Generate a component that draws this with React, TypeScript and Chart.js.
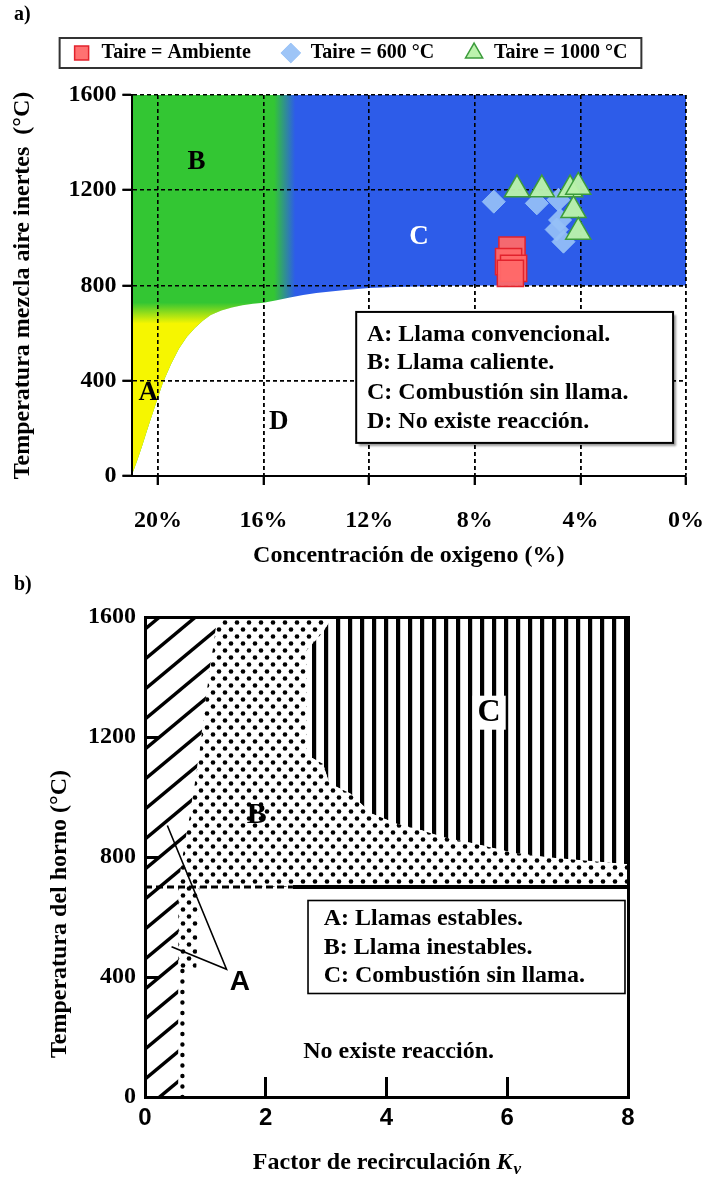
import React, { useEffect, useRef } from 'react';
import { Chart, registerables } from 'chart.js';

Chart.register(...registerables);

// ================= Panel a) data =================
const O2_TICKS = [0, 4, 8, 12, 16, 20];
const TEMP_TICKS = [0, 400, 800, 1200, 1600];
const O2_MIN = 0;
const O2_MAX = 21;
const TEMP_MIN = 0;
const TEMP_MAX = 1600;

// lower limit of the reacting zone (boundary with zone D)
const LIMIT_O2 = [21, 20.8, 20.6, 20.4, 20.2, 20, 19.8, 19.5, 19.2, 18.9, 18.6, 18.3, 18, 17.6, 17.2, 16.8, 16.4, 16, 15.5, 15, 14.5, 14, 13, 12, 11, 10, 9, 8, 0];
const LIMIT_T = [0, 60, 125, 195, 262, 330, 395, 470, 535, 585, 622, 652, 676, 695, 708, 717, 723, 728, 738, 750, 760, 768, 780, 789, 794, 797, 799, 800, 800];
const YELLOW_TOP_T = 728;
const YELLOW_FADE_T = [640, 728];
const BLEND_O2 = [15.6, 14.8];

const AMB_O2 = [6.59, 6.72, 6.53, 6.65];
const AMB_T = [949, 900, 872, 851];
const T600_O2 = [7.28, 5.65, 4.83, 4.77, 4.9, 4.64];
const T600_T = [1152, 1145, 1160, 1075, 1035, 984];
const T1000_O2 = [6.4, 5.46, 4.39, 4.08, 4.26, 4.08];
const T1000_T = [1203, 1203, 1203, 1214, 1116, 1025];

const LEGEND_A = ['Taire = Ambiente', 'Taire = 600 °C', 'Taire = 1000 °C'];
const NOTES_A = ['A: Llama convencional.', 'B: Llama caliente.', 'C: Combustión sin llama.', 'D: No existe reacción.'];
const ZONE_LETTERS_A = ['B', 'C', 'A', 'D'];
const ZONE_LETTER_A_O2 = [18.54, 10.11, 20.37, 15.42];
const ZONE_LETTER_A_T = [1320, 1005, 347, 228];

// ================= Panel b) data =================
const KV_TICKS = [0, 2, 4, 6, 8];
const KV_MIN = 0;
const KV_MAX = 8;

const ZONE_A_KV = [0, 0.55, 0.55, 0.62, 0.75, 0.9, 1.05, 1.2, 0];
const ZONE_A_T = [0, 0, 700, 800, 950, 1150, 1400, 1600, 1600];
const ZONE_B_KV = [0.55, 0.55, 0.62, 0.75, 0.9, 1.05, 1.2, 3.1, 2.95, 2.68, 2.68, 2.95, 3.05, 3.4, 3.75, 4.17, 4.58, 4.94, 5.47, 6.06, 6.65, 8, 8, 0.9, 0.85];
const ZONE_B_T = [430, 700, 800, 950, 1150, 1400, 1600, 1600, 1550, 1490, 1140, 1110, 1046, 1012, 945, 911, 889, 866, 844, 816, 799, 776, 700, 700, 430];
const ZONE_C_KV = [3.1, 8, 8, 6.65, 6.06, 5.47, 4.94, 4.58, 4.17, 3.75, 3.4, 3.05, 2.95, 2.68, 2.68, 2.95];
const ZONE_C_T = [1600, 1600, 776, 799, 816, 844, 866, 889, 911, 945, 1012, 1046, 1110, 1140, 1490, 1550];
const LIMIT_B_T = [700, 700];
const LIMIT_DASH_KV = [0, 2.45];
const LIMIT_SOLID_KV = [2.45, 8];
const STRIP_KV = [0.62, 0.62];
const STRIP_T = [0, 430];
const POINTER_KV = [0.37, 1.35, 0.44];
const POINTER_T = [905, 426, 501];

const NOTES_B = ['A: Llamas estables.', 'B: Llama inestables.', 'C: Combustión sin llama.'];
const NO_REACTION_B = 'No existe reacción.';

// ================= layout / style constants =================
const SERIF = '"Liberation Serif", "Times New Roman", serif';
const SANS = '"Liberation Sans", Arial, sans-serif';
const GREEN = '#33c633';
const BLUE = '#2d5ce9';
const YELLOW = 'rgba(246,246,0,1)';
const YELLOW_CLEAR = 'rgba(246,246,0,0)';

const pts = (xs: number[], ys: number[]) => xs.map((x, i) => ({ x, y: ys[i] }));
const setTicks = (list: number[]) => (s: any) => {
  s.ticks = [...list].sort((a, b) => a - b).map((v) => ({ value: v }));
};

function makeHatch() {
  const w = 36, h = 30;
  const c = document.createElement('canvas');
  c.width = w; c.height = h;
  const g = c.getContext('2d') as CanvasRenderingContext2D;
  g.fillStyle = '#fff'; g.fillRect(0, 0, w, h);
  g.strokeStyle = '#000'; g.lineWidth = 3.4;
  for (let k = -1; k <= 1; k++) {
    g.beginPath();
    g.moveTo(-2, h + k * h + (2 * h) / w);
    g.lineTo(w + 2, k * h - (2 * h) / w);
    g.stroke();
  }
  return g.createPattern(c, 'repeat');
}
function makeDots() {
  const w = 12, h = 14;
  const c = document.createElement('canvas');
  c.width = w; c.height = h;
  const g = c.getContext('2d') as CanvasRenderingContext2D;
  g.fillStyle = '#fff'; g.fillRect(0, 0, w, h);
  g.fillStyle = '#000';
  for (const [px, py] of [[3, 3.5], [9, 10.5]]) {
    g.beginPath(); g.arc(px, py, 2.3, 0, Math.PI * 2); g.fill();
  }
  return g.createPattern(c, 'repeat');
}
function makeStripes() {
  const w = 12, h = 4;
  const c = document.createElement('canvas');
  c.width = w; c.height = h;
  const g = c.getContext('2d') as CanvasRenderingContext2D;
  g.fillStyle = '#fff'; g.fillRect(0, 0, w, h);
  g.fillStyle = '#000'; g.fillRect(0, 0, 4.2, h);
  return g.createPattern(c, 'repeat');
}

function text(ctx: any, s: string, x: number, y: number, font: string, align = 'center', color = '#000') {
  ctx.save();
  ctx.font = font; ctx.fillStyle = color; ctx.textAlign = align; ctx.textBaseline = 'middle';
  ctx.fillText(s, x, y);
  ctx.restore();
}

// ================= panel a config =================
function configA(): any {
  const yellowPoly = pts(LIMIT_O2, LIMIT_T).filter((p) => p.y <= YELLOW_TOP_T);
  yellowPoly.push({ x: O2_MAX, y: YELLOW_TOP_T });
  const upperPoly = pts(LIMIT_O2, LIMIT_T).concat([{ x: O2_MIN, y: TEMP_MAX }, { x: O2_MAX, y: TEMP_MAX }]);

  const plugin = {
    id: 'annotA',
    beforeDatasetDraw(chart: any, args: any) {
      if (args.index !== 1) return;
      chart.scales.x.drawGrid(chart.chartArea);
      chart.scales.y.drawGrid(chart.chartArea);
    },
    afterDatasetsDraw(chart: any) {
      const { ctx, scales: { x, y } } = chart;
      ZONE_LETTERS_A.forEach((s, i) => {
        text(ctx, s, x.getPixelForValue(ZONE_LETTER_A_O2[i]), y.getPixelForValue(ZONE_LETTER_A_T[i]),
          `bold 27px ${SERIF}`, 'center', s === 'C' ? '#fff' : '#000');
      });
      // notes box
      const l = x.getPixelForValue(12.49), r = x.getPixelForValue(0.49);
      const t = y.getPixelForValue(689), b = y.getPixelForValue(139);
      ctx.save();
      ctx.shadowColor = 'rgba(0,0,0,0.4)'; ctx.shadowOffsetX = 3; ctx.shadowOffsetY = 3; ctx.shadowBlur = 2;
      ctx.fillStyle = '#fff'; ctx.fillRect(l, t, r - l, b - t);
      ctx.restore();
      ctx.save(); ctx.lineWidth = 2; ctx.strokeStyle = '#000'; ctx.strokeRect(l, t, r - l, b - t); ctx.restore();
      const lineT = [592, 475, 349, 227];
      NOTES_A.forEach((s, i) => text(ctx, s, x.getPixelForValue(12.08), y.getPixelForValue(lineT[i]), `bold 24px ${SERIF}`, 'left'));
    },
    afterDraw(chart: any) {
      const { ctx, legend } = chart;
      const hb = legend.legendHitBoxes;
      if (hb && hb.length) {
        const l = hb[0].left - 12;
        const r = hb[hb.length - 1].left + hb[hb.length - 1].width + 14;
        const cy = hb[0].top + hb[0].height / 2;
        ctx.save(); ctx.lineWidth = 2; ctx.strokeStyle = '#333';
        ctx.strokeRect(l, cy - 15, r - l, 30); ctx.restore();
      }
      text(ctx, 'a)', 14, 15, `bold 20px ${SERIF}`, 'left');
    },
  };

  return {
    type: 'scatter',
    data: {
      datasets: [
        { label: LEGEND_A[0], data: pts(AMB_O2, AMB_T), order: 0, pointStyle: 'rect', pointRadius: 18.5,
          backgroundColor: 'rgba(255,105,105,0.95)', borderColor: '#e2222c', borderWidth: 1.5 },
        { label: LEGEND_A[1], data: pts(T600_O2, T600_T), order: 2, pointStyle: 'rectRot', pointRadius: 11.5,
          backgroundColor: 'rgba(150,192,246,0.92)', borderColor: 'rgba(150,192,246,0.92)', borderWidth: 1 },
        { label: LEGEND_A[2], data: pts(T1000_O2, T1000_T), order: 1, pointStyle: 'triangle', pointRadius: 14.5,
          backgroundColor: 'rgba(186,242,170,0.97)', borderColor: '#3c9c3c', borderWidth: 1.5 },
        { type: 'line', label: 'zona A', data: yellowPoly, order: 3, fill: 'shape', borderWidth: 0, pointRadius: 0,
          backgroundColor: (c: any) => {
            const ch = c.chart;
            if (!ch.chartArea) return YELLOW;
            const y = ch.scales.y;
            const g = ch.ctx.createLinearGradient(0, y.getPixelForValue(YELLOW_FADE_T[0]), 0, y.getPixelForValue(YELLOW_FADE_T[1]));
            g.addColorStop(0, YELLOW); g.addColorStop(1, YELLOW_CLEAR);
            return g;
          } },
        { type: 'line', label: 'zonas B y C', data: upperPoly, order: 4, fill: 'shape', borderWidth: 0, pointRadius: 0,
          backgroundColor: (c: any) => {
            const ch = c.chart;
            if (!ch.chartArea) return GREEN;
            const x = ch.scales.x;
            const g = ch.ctx.createLinearGradient(x.getPixelForValue(BLEND_O2[0]), 0, x.getPixelForValue(BLEND_O2[1]), 0);
            g.addColorStop(0, GREEN); g.addColorStop(1, BLUE);
            return g;
          } },
      ],
    },
    options: {
      animation: false,
      responsive: false,
      devicePixelRatio: 1,
      events: [],
      layout: { padding: { left: 11, right: 18, top: 13, bottom: 2 } },
      plugins: {
        tooltip: { enabled: false },
        legend: {
          position: 'top',
          align: 'center',
          labels: {
            usePointStyle: true, boxHeight: 14, padding: 30, color: '#000',
            font: { family: SERIF, size: 20, weight: 'bold' },
            filter: (item: any) => item.datasetIndex < 3,
            sort: (a: any, b: any) => a.datasetIndex - b.datasetIndex,
          },
        },
      },
      scales: {
        x: {
          type: 'linear', position: 'bottom', min: O2_MIN, max: O2_MAX, reverse: true,
          afterBuildTicks: setTicks(O2_TICKS),
          afterFit: (s: any) => { s.height = 92; },
          ticks: { autoSkip: false, maxRotation: 0, padding: 21, color: '#000',
            font: { family: SERIF, size: 24, weight: 'bold' }, callback: (v: any) => `${v}%` },
          grid: { color: '#000', lineWidth: 1.6, tickLength: 9, tickColor: '#000', tickWidth: 2 },
          border: { display: true, color: '#000', width: 2, dash: [4, 3], z: 1 },
          title: { display: true, text: 'Concentración de oxigeno (%)', color: '#000', padding: { top: 0, bottom: 0 },
            font: { family: SERIF, size: 24, weight: 'bold', lineHeight: 1 } },
        },
        spacer: {
          type: 'linear', position: 'top', display: true,
          grid: { display: false, drawTicks: false }, ticks: { display: false }, border: { display: false },
          afterFit: (s: any) => { s.height = 22; },
        },
        y: {
          type: 'linear', position: 'left', min: TEMP_MIN, max: TEMP_MAX,
          afterBuildTicks: setTicks(TEMP_TICKS),
          afterFit: (s: any) => { s.width = 120.5; },
          ticks: { autoSkip: false, padding: 6, color: '#000', font: { family: SERIF, size: 24, weight: 'bold' },
            callback: (v: any) => String(v) },
          grid: { color: '#000', lineWidth: 1.6, tickLength: 9, tickColor: '#000', tickWidth: 2 },
          border: { display: true, color: '#000', width: 2, dash: [4, 3], z: 1 },
          title: { display: true, text: 'Temperatura mezcla aire inertes  (°C)', color: '#000', padding: { top: 0, bottom: 0 },
            font: { family: SERIF, size: 24, weight: 'bold', lineHeight: 1 } },
        },
      },
    },
    plugins: [plugin],
  };
}

// ================= panel b config =================
function configB(): any {
  const hatch = makeHatch();
  const dots = makeDots();
  const stripes = makeStripes();

  const plugin = {
    id: 'annotB',
    afterDatasetsDraw(chart: any) {
      const { ctx, scales: { x, y } } = chart;
      text(ctx, 'A', x.getPixelForValue(1.57), y.getPixelForValue(383), `bold 28px ${SANS}`);
      text(ctx, 'B', x.getPixelForValue(1.85), y.getPixelForValue(938), `bold 30px ${SERIF}`);
      // C with white clearing
      ctx.save();
      ctx.font = `bold 32px ${SERIF}`;
      const cw = ctx.measureText('C').width;
      const cx = x.getPixelForValue(5.7), cy = y.getPixelForValue(1281);
      ctx.fillStyle = '#fff';
      ctx.fillRect(cx - cw / 2 - 5, cy - 17, cw + 10, 34);
      ctx.restore();
      text(ctx, 'C', cx, cy, `bold 32px ${SERIF}`);
      // notes box
      const l = x.getPixelForValue(2.7), r = x.getPixelForValue(7.95);
      const t = y.getPixelForValue(655), b = y.getPixelForValue(345);
      ctx.save();
      ctx.fillStyle = '#fff'; ctx.fillRect(l, t, r - l, b - t);
      ctx.lineWidth = 1.6; ctx.strokeStyle = '#000'; ctx.strokeRect(l, t, r - l, b - t);
      ctx.restore();
      const lineT = [593, 498, 403];
      NOTES_B.forEach((s, i) => text(ctx, s, x.getPixelForValue(2.96), y.getPixelForValue(lineT[i]), `bold 24px ${SERIF}`, 'left'));
      text(ctx, NO_REACTION_B, x.getPixelForValue(4.2), y.getPixelForValue(150), `bold 24px ${SERIF}`);
    },
    afterDraw(chart: any) {
      const { ctx, chartArea, scales: { y } } = chart;
      text(ctx, 'b)', 14, 15, `bold 20px ${SERIF}`, 'left');
      // x title with italic K and subscript v
      const p1 = 'Factor de recirculación ';
      ctx.save();
      ctx.font = `bold 24px ${SERIF}`; const w1 = ctx.measureText(p1).width;
      ctx.font = `italic bold 24px ${SERIF}`; const w2 = ctx.measureText('K').width;
      ctx.font = `italic bold 17px ${SERIF}`; const w3 = ctx.measureText('v').width;
      const cx = (chartArea.left + chartArea.right) / 2;
      const ty = chartArea.bottom + 72;
      let sx = cx - (w1 + w2 + w3) / 2;
      ctx.fillStyle = '#000'; ctx.textBaseline = 'alphabetic'; ctx.textAlign = 'left';
      ctx.font = `bold 24px ${SERIF}`; ctx.fillText(p1, sx, ty); sx += w1;
      ctx.font = `italic bold 24px ${SERIF}`; ctx.fillText('K', sx, ty); sx += w2;
      ctx.font = `italic bold 17px ${SERIF}`; ctx.fillText('v', sx + 1, ty + 5);
      ctx.restore();
      // y title
      ctx.save();
      ctx.translate(chartArea.left - 85, y.getPixelForValue(610));
      ctx.rotate(-Math.PI / 2);
      ctx.font = `bold 24px ${SERIF}`; ctx.fillStyle = '#000'; ctx.textAlign = 'center'; ctx.textBaseline = 'middle';
      ctx.fillText('Temperatura del horno (°C)', 0, 0);
      ctx.restore();
    },
  };

  const lineDs = (label: string, data: any[], extra: any) => ({
    type: 'line', label, data, borderColor: '#000', pointRadius: 0, fill: false, tension: 0, ...extra,
  });

  return {
    type: 'line',
    data: {
      datasets: [
        lineDs('indicador A', pts(POINTER_KV, POINTER_T), { borderWidth: 1.6 }),
        lineDs('franja punteada', pts(STRIP_KV, STRIP_T), { borderWidth: 4.4, borderDash: [0, 10.5], borderCapStyle: 'round' }),
        lineDs('límite discontinuo', pts(LIMIT_DASH_KV, LIMIT_B_T), { borderWidth: 3.2, borderDash: [7, 4] }),
        lineDs('límite continuo', pts(LIMIT_SOLID_KV, LIMIT_B_T), { borderWidth: 4 }),
        lineDs('A: Llamas estables', pts(ZONE_A_KV, ZONE_A_T), { borderWidth: 0, fill: 'shape', backgroundColor: hatch }),
        lineDs('B: Llama inestables', pts(ZONE_B_KV, ZONE_B_T), { borderWidth: 0, fill: 'shape', backgroundColor: dots }),
        lineDs('C: Combustión sin llama', pts(ZONE_C_KV, ZONE_C_T), { borderWidth: 0, fill: 'shape', backgroundColor: stripes }),
      ],
    },
    options: {
      animation: false,
      responsive: false,
      devicePixelRatio: 1,
      events: [],
      layout: { padding: { left: 10, right: 78, top: 47, bottom: 2 } },
      plugins: { tooltip: { enabled: false }, legend: { display: false } },
      scales: {
        x: {
          type: 'linear', position: 'bottom', min: KV_MIN, max: KV_MAX,
          afterBuildTicks: setTicks(KV_TICKS),
          afterFit: (s: any) => { s.height = 79; },
          ticks: { autoSkip: false, maxRotation: 0, padding: 27, color: '#000', font: { family: SANS, size: 24, weight: 'bold' },
            callback: (v: any) => String(v) },
          grid: { drawOnChartArea: false, drawTicks: true, tickLength: -20, tickColor: '#000', tickWidth: 3, z: 1 },
          border: { display: true, color: '#000', width: 3, z: 1 },
        },
        y: {
          type: 'linear', position: 'left', min: TEMP_MIN, max: TEMP_MAX,
          afterBuildTicks: setTicks(TEMP_TICKS),
          afterFit: (s: any) => { s.width = 135; },
          ticks: { autoSkip: false, padding: 24, color: '#000', font: { family: SERIF, size: 24, weight: 'bold' },
            callback: (v: any) => String(v) },
          grid: { drawOnChartArea: false, drawTicks: true, tickLength: -15, tickColor: '#000', tickWidth: 3, z: 1 },
          border: { display: true, color: '#000', width: 3, z: 1 },
        },
        x2: {
          type: 'linear', position: 'top', min: KV_MIN, max: KV_MAX,
          grid: { display: false, drawTicks: false }, ticks: { display: false },
          border: { display: true, color: '#000', width: 3, z: 1 },
          afterFit: (s: any) => { s.height = 0; },
        },
        y2: {
          type: 'linear', position: 'right', min: TEMP_MIN, max: TEMP_MAX,
          grid: { display: false, drawTicks: false }, ticks: { display: false },
          border: { display: true, color: '#000', width: 3, z: 1 },
          afterFit: (s: any) => { s.width = 0; },
        },
      },
    },
    plugins: [plugin],
  };
}

export default function App() {
  const refA = useRef<HTMLCanvasElement>(null);
  const refB = useRef<HTMLCanvasElement>(null);
  useEffect(() => {
    const a = new Chart(refA.current as HTMLCanvasElement, configA());
    const b = new Chart(refB.current as HTMLCanvasElement, configB());
    return () => { a.destroy(); b.destroy(); };
  }, []);
  return (
    <div style={{ position: 'absolute', left: 0, top: 0, width: 706, height: 1178, background: '#fff' }}>
      <canvas ref={refA} width={706} height={570} style={{ position: 'absolute', left: 0, top: 0, width: 706, height: 570 }} />
      <canvas ref={refB} width={706} height={608} style={{ position: 'absolute', left: 0, top: 570, width: 706, height: 608 }} />
    </div>
  );
}
